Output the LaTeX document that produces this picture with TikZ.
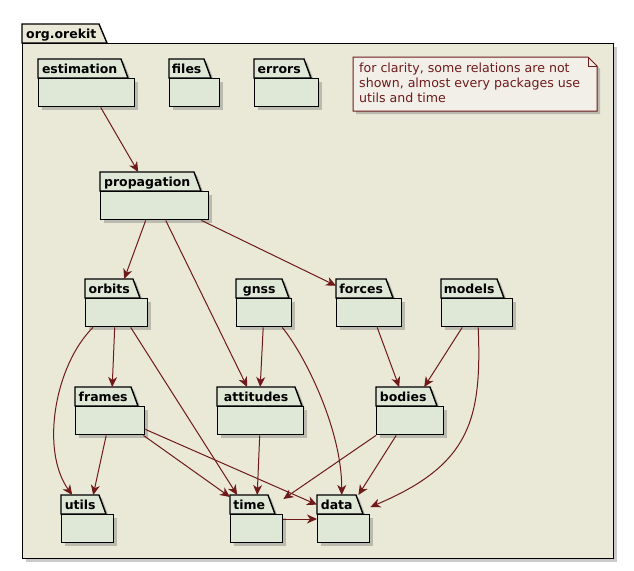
\documentclass[tikz,border=0pt]{standalone}
\usepackage{fontspec}
\setmainfont{DejaVu Sans}
\usetikzlibrary{arrows.meta,shadows}
\definecolor{pkgfill}{RGB}{223,231,214}
\definecolor{outerfill}{RGB}{234,232,214}
\definecolor{notefill}{RGB}{242,239,233}
\definecolor{deepred}{RGB}{110,26,26}

% package: name, x, y (top of tab), tab width, body width
\newcommand{\pkgbox}[5]{
  \filldraw[pkgtab] (#2,#3) -- (#2+#4,#3) -- (#2+#4+7,#3+19) -- (#2,#3+19) -- cycle;
  \node[pkgtext, minimum width=#4pt, anchor=north west] (#1tab) at (#2,#3) {#1};
  \node[pkgbody, minimum width=#5pt, anchor=north west] (#1) at (#2,#3+19) {};
}

\begin{document}
\begin{tikzpicture}[x=1pt, y=-1pt,
  shade/.style = {drop shadow={shadow xshift=3pt, shadow yshift=-3pt, fill=black!60, opacity=.35}},
  pkgtab/.style = {draw, line width=1.4pt, fill=pkgfill, shade},
  pkgbody/.style = {shape=rectangle, draw, line width=1.4pt, fill=pkgfill, inner sep=0pt, minimum height=28pt, shade},
  pkgtext/.style = {shape=rectangle, inner sep=0pt, minimum height=19pt, text height=9.5pt, text depth=0pt, font=\fontsize{12.5}{15}\selectfont\bfseries},
  outertab/.style = {draw, line width=1.4pt, fill=outerfill},
  outerbody/.style = {shape=rectangle, draw, line width=1.4pt, fill=outerfill, inner sep=0pt, shade},
  notebox/.style = {draw=deepred, line width=1pt, fill=notefill, shade},
  notetext/.style = {inner sep=0pt, align=left, text=deepred, font=\fontsize{12.6}{15}\selectfont},
  dep/.style = {draw=deepred, line width=1pt, -{Stealth[length=10pt, width=9pt, inset=3pt]}}]
\useasboundingbox (0,0) rectangle (634,570);

% the enclosing package
\filldraw[outertab] (22,24) -- (99,24) -- (107,43) -- (22,43) -- cycle;
\node[pkgtext, anchor=west] (orekittab) at (26,34) {org.orekit};
\node[outerbody, minimum width=591pt, minimum height=515pt, anchor=north west] (orekit) at (22,43) {};

% note
\filldraw[notebox] (353,57) -- (588,57) -- (597,66) -- (597,111) -- (353,111) -- cycle;
\draw[deepred, line width=1pt] (588,57) -- (588,66) -- (597,66);
\node[notetext, anchor=north west] (note) at (359,63) {for clarity, some relations are not\\shown, almost every packages use\\utils and time};

% packages
\pkgbox{estimation}{38}{59}{83}{96}
\pkgbox{files}{169}{59}{35}{50}
\pkgbox{errors}{254}{59}{50}{64}
\pkgbox{propagation}{100}{172}{94}{108}
\pkgbox{orbits}{85}{279}{48}{62}
\pkgbox{gnss}{236}{279}{46}{55}
\pkgbox{forces}{336}{279}{50}{65}
\pkgbox{models}{441}{279}{56}{71}
\pkgbox{frames}{75}{387}{56}{69}
\pkgbox{attitudes}{217}{387}{78}{86}
\pkgbox{bodies}{376}{387}{54}{67}
\pkgbox{utils}{61}{495}{38}{52}
\pkgbox{time}{230}{495}{38}{52}
\pkgbox{data}{317}{495}{39}{52}

% dependencies
\draw[dep] ([xshift=14pt]estimation.south) -- ([xshift=-9pt]propagationtab.north);
\draw[dep] ([xshift=-9pt]propagation.south) -- ([xshift=15pt]orbitstab.north);
\draw[dep] ([xshift=11pt]propagation.south) -- ([xshift=-9pt]attitudestab.north);
\draw[dep] ([xshift=-8pt]propagation.south east) -- ([yshift=3pt]forcestab.west);
\draw[dep] ([xshift=-2pt]orbits.south) -- ([xshift=9pt]framestab.north);
\draw[dep] ([xshift=8pt]orbits.south west) .. controls (55,365) and (40,450) .. ([xshift=-8pt]utilstab.north);
\draw[dep] ([xshift=14pt]orbits.south) -- ([xshift=-12pt]timetab.north);
\draw[dep] ([xshift=-1pt]gnss.south) -- ([xshift=4pt]attitudestab.north);
\draw[dep] ([xshift=18pt]gnss.south) .. controls (305,355) and (342,430) .. ([xshift=5pt]datatab.north);
\draw[dep] ([xshift=8pt]forces.south) -- ([xshift=-4pt]bodiestab.north);
\draw[dep] ([xshift=-15pt]models.south) -- ([xshift=21pt]bodiestab.north);
\draw[dep] ([xshift=1pt]models.south) .. controls (482,420) and (470,465) .. ([yshift=7pt]data.north east);
\draw[dep] ([xshift=-4pt]frames.south) -- ([xshift=13pt]utilstab.north);
\draw[dep] ([xshift=-2pt]frames.south east) -- ([yshift=-2pt]timetab.north west);
\draw[dep] ([yshift=6pt]frames.south east) -- (datatab.west);
\draw[dep] ([xshift=-1pt]attitudes.south) -- ([xshift=8pt]timetab.north);
\draw[dep] (bodies.south west) -- ([yshift=15pt]time.north east);
\draw[dep] ([xshift=-14pt]bodies.south) -- ([xshift=2pt]datatab.north east);
\draw[dep] ([yshift=-5pt]time.north east) -- ([yshift=-5pt]data.north west);
\end{tikzpicture}
\end{document}
